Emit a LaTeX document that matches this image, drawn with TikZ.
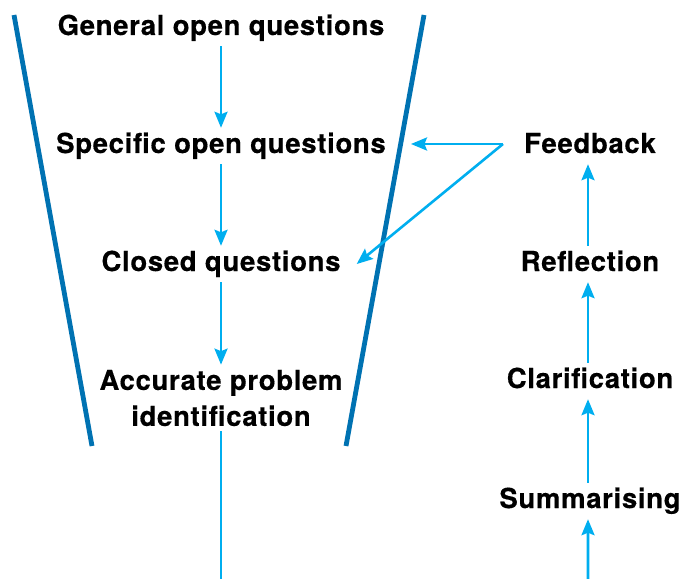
\documentclass[tikz,border=0pt]{standalone}
\usepackage{fontspec}
\setmainfont{TeX Gyre Heros}[LetterSpace=2.5, FakeBold=0.4]
\definecolor{FunnelBlue}{RGB}{0, 114, 178}
\definecolor{ArrowCyan}{RGB}{0, 174, 239}
\usepackage{tikz}
\usetikzlibrary{calc,arrows.meta,positioning}

\begin{document}
\begin{tikzpicture}[
    x=1bp, y=-1bp,
    lbl/.style={inner sep=5bp, text height=20bp, text depth=6bp, font=\fontsize{27.5bp}{36bp}\selectfont\bfseries},
    lbltwo/.style={inner sep=5bp, align=center, font=\fontsize{27.5bp}{36bp}\selectfont\bfseries},
    arr/.style={-{Stealth[length=16bp, width=13bp, inset=2.5bp]}, line width=2.6bp, ArrowCyan},
    funnel/.style={line width=4.8bp, FunnelBlue}
]
    \useasboundingbox (0,0) rectangle (696,579);

    % funnel walls
    \draw[funnel] (14,15) -- (92,446);
    \draw[funnel] (424,15) -- (346,446);

    % questioning column
    \node[lbl] (gen) at (221,28) {General open questions};
    \node[lbl] (spec) at (221,146) {Specific open questions};
    \node[lbl] (closed) at (221,264) {Closed questions};
    \node[lbltwo] (acc) at (221,398) {Accurate problem\\identification};
    \coordinate (leftend) at (221,579);

    % listening column
    \node[lbl] (fb) at (590,146) {Feedback};
    \node[lbl] (refl) at (590,264) {Reflection};
    \node[lbl] (clar) at (590,381) {Clarification};
    \node[lbl] (summ) at (590,501) {Summarising};
    \coordinate (rightend) at (588,579);

    \draw[arr] (gen) -- (spec);
    \draw[arr] (spec) -- (closed);
    \draw[arr] (closed) -- (acc);
    \draw[line width=2.6bp, ArrowCyan] (acc) -- (leftend);

    \draw[arr] (rightend) -- ([xshift=-2bp]summ.south);
    \draw[arr] ([xshift=-2bp]summ.north) -- ([xshift=-2bp]clar.south);
    \draw[arr] ([xshift=-2bp]clar.north) -- ([xshift=-2bp]refl.south);
    \draw[arr] ([xshift=-2bp]refl.north) -- ([xshift=-2bp]fb.south);

    % feedback into the funnel
    \coordinate (fbsrc) at ([xshift=-16bp, yshift=2bp]fb.west);
    \draw[arr] (fbsrc) -- ([xshift=20bp, yshift=2bp]spec.east);
    \draw[arr] (fbsrc) -- ([xshift=11bp]closed.east);
\end{tikzpicture}
\end{document}
